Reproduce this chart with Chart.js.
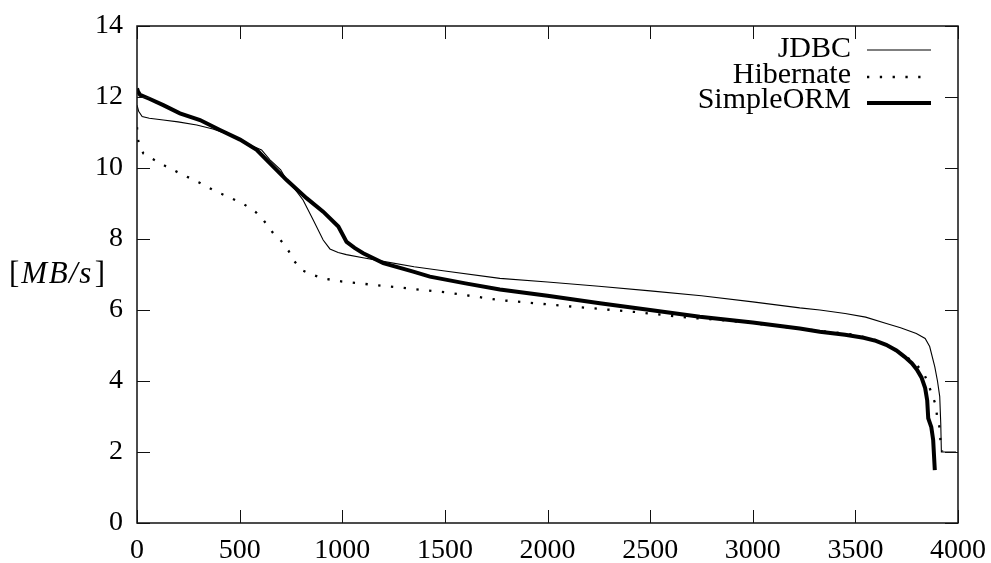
<!DOCTYPE html>
<html><head><meta charset="utf-8">
<script src="https://cdn.jsdelivr.net/npm/chart.js@4/dist/chart.umd.min.js"></script>
<style>html,body{margin:0;padding:0;background:#fff}#w{width:991px;height:563px}</style>
</head><body><div id="w"><canvas id="c"></canvas></div>
<script>
const seriesNames = ["JDBC", "Hibernate", "SimpleORM"];
const xTicks = [0, 500, 1000, 1500, 2000, 2500, 3000, 3500, 4000];
const yTicks = [0, 2, 4, 6, 8, 10, 12, 14];

const jdbcX = [0, 8, 25, 60, 128, 200, 291, 370, 453, 510, 550, 607, 648, 700, 729, 770, 809, 858, 907, 940, 980, 1020, 1101, 1200, 1350, 1500, 1768, 2000, 2250, 2500, 2750, 3000, 3229, 3327, 3450, 3550, 3651, 3720, 3797, 3840, 3862, 3887, 3900, 3911, 3916, 3919, 3930, 3990];
const jdbcY = [11.77, 11.6, 11.45, 11.4, 11.35, 11.3, 11.21, 11.1, 10.93, 10.8, 10.65, 10.51, 10.23, 9.95, 9.66, 9.4, 9.1, 8.54, 7.97, 7.72, 7.62, 7.56, 7.47, 7.37, 7.22, 7.1, 6.89, 6.79, 6.67, 6.54, 6.4, 6.23, 6.06, 6.0, 5.9, 5.8, 5.62, 5.5, 5.34, 5.2, 4.97, 4.4, 4.0, 3.56, 2.8, 2.0, 2.0, 2.0];

const hibX = [0, 3, 8, 31, 71, 140, 209, 300, 388, 460, 526, 580, 615, 640, 664, 690, 713, 740, 761, 802, 850, 907, 1000, 1250, 1500, 1768, 2093, 2418, 2677, 2900, 3100, 3300, 3500, 3600, 3680, 3740, 3790, 3830, 3855, 3871, 3892, 3898, 3911, 3915, 3923];
const hibY = [11.15, 10.9, 10.7, 10.41, 10.27, 10.05, 9.85, 9.6, 9.33, 9.15, 8.96, 8.75, 8.54, 8.35, 8.16, 8.02, 7.88, 7.65, 7.41, 7.13, 7.0, 6.89, 6.8, 6.65, 6.5, 6.28, 6.11, 5.95, 5.79, 5.69, 5.56, 5.43, 5.3, 5.15, 4.94, 4.72, 4.5, 4.26, 3.93, 3.65, 3.32, 3.0, 2.67, 2.26, 2.01];

const ormX = [0, 5, 15, 60, 128, 209, 307, 404, 502, 583, 648, 729, 826, 907, 981, 1021, 1060, 1102, 1200, 1346, 1427, 1600, 1768, 2000, 2255, 2500, 2742, 3000, 3229, 3327, 3450, 3540, 3600, 3650, 3700, 3740, 3775, 3800, 3822, 3840, 3850, 3855, 3870, 3879, 3887];
const ormY = [12.24, 12.15, 12.06, 11.95, 11.77, 11.54, 11.35, 11.07, 10.8, 10.51, 10.13, 9.66, 9.15, 8.77, 8.35, 7.92, 7.75, 7.6, 7.32, 7.08, 6.94, 6.75, 6.58, 6.4, 6.19, 6.0, 5.81, 5.65, 5.48, 5.39, 5.3, 5.22, 5.13, 5.02, 4.86, 4.68, 4.5, 4.32, 4.1, 3.8, 3.45, 2.95, 2.7, 2.34, 1.49];

const pts = (xs, ys) => xs.map((x, i) => ({x: x, y: ys[i]}));
const FONT = "'Liberation Serif', serif";

const framePlugin = {
  id: 'frame',
  afterDraw(chart) {
    const ctx = chart.ctx, a = chart.chartArea;
    const xs = chart.scales.x, ys = chart.scales.y;
    ctx.save();
    ctx.strokeStyle = '#111';
    ctx.lineWidth = 1.5;
    ctx.strokeRect(a.left, a.top, a.right - a.left, a.bottom - a.top);
    ctx.lineWidth = 1;
    const L = 13;
    ctx.beginPath();
    xTicks.forEach(v => {
      const p = Math.round(xs.getPixelForValue(v)) + 0.5;
      ctx.moveTo(p, a.bottom); ctx.lineTo(p, a.bottom - L);
      ctx.moveTo(p, a.top); ctx.lineTo(p, a.top + L);
    });
    yTicks.forEach(v => {
      const p = Math.round(ys.getPixelForValue(v)) + 0.5;
      ctx.moveTo(a.left, p); ctx.lineTo(a.left + L, p);
      ctx.moveTo(a.right, p); ctx.lineTo(a.right - L, p);
    });
    ctx.stroke();

    // legend
    ctx.font = "30px " + FONT;
    ctx.fillStyle = '#000';
    ctx.textAlign = 'right';
    ctx.textBaseline = 'alphabetic';
    const rows = [50, 77, 103];
    const bases = [57, 83, 108];
    chart.data.datasets.forEach((ds, i) => {
      const y = rows[i];
      ctx.fillText(ds.label, 851, bases[i]);
      ctx.save();
      ctx.strokeStyle = ds.borderColor;
      ctx.lineWidth = ds.borderWidth;
      ctx.setLineDash(ds.borderDash || []);
      ctx.beginPath();
      ctx.moveTo(867, y); ctx.lineTo(931, y);
      ctx.stroke();
      ctx.restore();
    });

    // y-axis label [MB/s]
    ctx.textAlign = 'left';
    let x = 9; const by = 283;
    ctx.font = "31px " + FONT;
    ctx.fillText('[', x, by); x += ctx.measureText('[').width + 2;
    ctx.font = "italic 31px " + FONT;
    ['M', 'B', '/', 's'].forEach(ch => { ctx.fillText(ch, x, by); x += ctx.measureText(ch).width + 1.5; });
    x += 2;
    ctx.font = "31px " + FONT;
    ctx.fillText(']', x, by);
    ctx.restore();
  }
};

new Chart(document.getElementById('c'), {
  type: 'scatter',
  data: {
    datasets: [
      {label: seriesNames[0], data: pts(jdbcX, jdbcY), showLine: true, borderColor: '#000', borderWidth: 1.1, pointRadius: 0, tension: 0},
      {label: seriesNames[1], data: pts(hibX, hibY), showLine: true, borderColor: '#000', borderWidth: 2.3, borderDash: [2.3, 10.5], pointRadius: 0, tension: 0},
      {label: seriesNames[2], data: pts(ormX, ormY), showLine: true, borderColor: '#000', borderWidth: 4, pointRadius: 0, tension: 0}
    ]
  },
  options: {
    responsive: true, maintainAspectRatio: false, animation: false,
    layout: {padding: {top: 26, right: 33, left: 0, bottom: 0}},
    plugins: {legend: {display: false}, tooltip: {enabled: false}},
    scales: {
      x: {
        type: 'linear', min: 0, max: 4000,
        afterBuildTicks: s => { s.ticks = xTicks.map(v => ({value: v})); },
        afterFit: s => { s.height = 40; s.paddingLeft = 0; s.paddingRight = 0; },
        grid: {display: false, drawTicks: false}, border: {display: false},
        ticks: {font: {family: FONT, size: 28}, color: '#000', padding: 11, maxRotation: 0, autoSkip: false, callback: v => String(v)}
      },
      y: {
        type: 'linear', min: 0, max: 14,
        afterBuildTicks: s => { s.ticks = yTicks.map(v => ({value: v})); },
        afterFit: s => { s.width = 137; s.paddingTop = 0; s.paddingBottom = 0; },
        grid: {display: false, drawTicks: false}, border: {display: false},
        ticks: {font: {family: FONT, size: 28}, color: '#000', padding: 14, autoSkip: false, callback: v => String(v)}
      }
    }
  },
  plugins: [framePlugin]
});
</script></body></html>
